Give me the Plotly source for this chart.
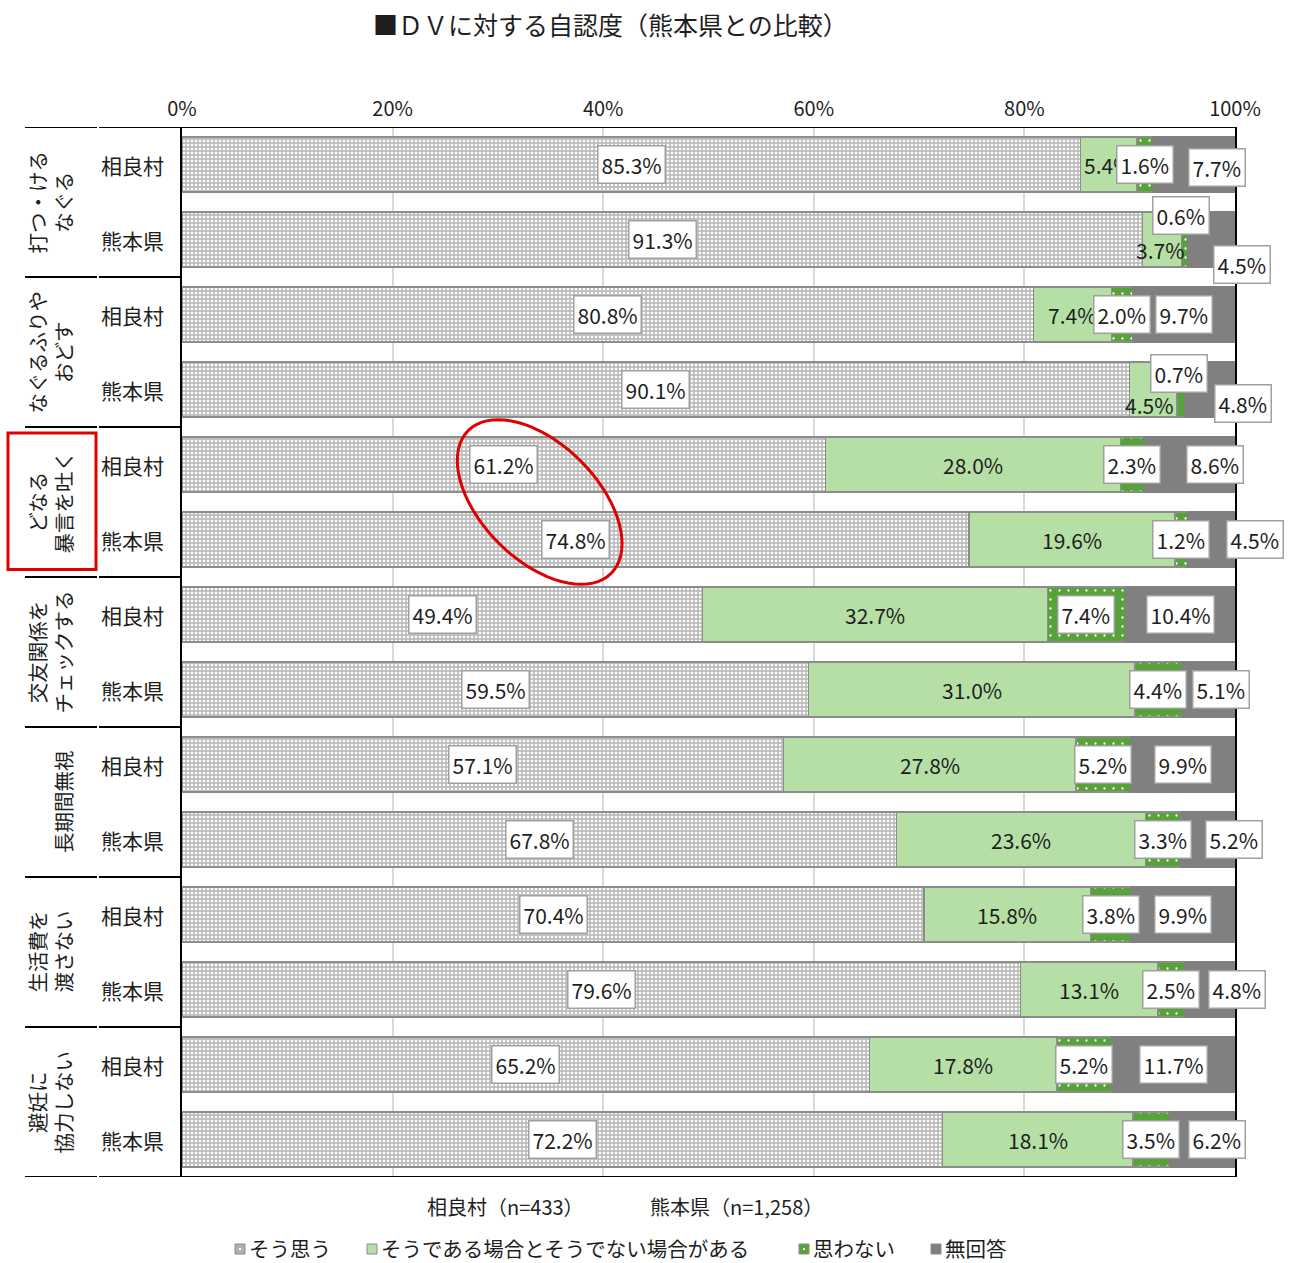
import math
import plotly.graph_objects as go

# ---- data -------------------------------------------------------------
group_labels = [
    "打つ・ける\nなぐる",
    "なぐるふりや\nおどす",
    "どなる\n暴言を吐く",
    "交友関係を\nチェックする",
    "長期間無視",
    "生活費を\n渡さない",
    "避妊に\n協力しない",
]
areas = ["相良村", "熊本県"]
series_names = ["そう思う", "そうである場合とそうでない場合がある", "思わない", "無回答"]

# one value per row: 相良村, 熊本県 for each item in order
agree = [85.3, 91.3, 80.8, 90.1, 61.2, 74.8, 49.4, 59.5, 57.1, 67.8, 70.4, 79.6, 65.2, 72.2]
depends = [5.4, 3.7, 7.4, 4.5, 28.0, 19.6, 32.7, 31.0, 27.8, 23.6, 15.8, 13.1, 17.8, 18.1]
disagree = [1.6, 0.6, 2.0, 0.7, 2.3, 1.2, 7.4, 4.4, 5.2, 3.3, 3.8, 2.5, 5.2, 3.5]
no_answer = [7.7, 4.5, 9.7, 4.8, 8.6, 4.5, 10.4, 5.1, 9.9, 5.2, 9.9, 4.8, 11.7, 6.2]

sample_sizes = ["相良村（n=433）", "熊本県（n=1,258）"]
x_ticks = [0, 20, 40, 60, 80, 100]

# ---- geometry / style -------------------------------------------------
W, H = 1294, 1263
ML, MR, MT, MB = 182, 59, 127, 86
PW, PH = W - ML - MR, H - MT - MB
n_rows = len(agree)

NUM_FONT = "Noto Sans CJK JP, sans-serif"
JP_FONT = "Noto Sans CJK JP, Noto Sans CJK SC, sans-serif"
TXT = "#1e1e1e"

colors = ["#bfbfbf", "#b6dfa6", "#57a33a", "#808080"]
patterns = [
    dict(shape=".", fgcolor="#ffffff", bgcolor="#bcbcbc", size=4, solidity=0.35, fillmode="replace"),
    None,
    dict(shape=".", fgcolor="#ffffff", bgcolor="#57a33a", size=9, solidity=0.05, fillmode="replace"),
    None,
]


def px_x(px):
    return (px - ML) / PW


def px_y(py):
    return (H - MB - py) / PH


rows = list(range(n_rows))
values = [agree, depends, disagree, no_answer]

fig = go.Figure()
for s, name in enumerate(series_names):
    marker = dict(color=colors[s], line=dict(color="#8c8c8c" if s != 3 else "#808080", width=1.3))
    if patterns[s]:
        marker["pattern"] = patterns[s]
    fig.add_trace(go.Bar(
        name=name, orientation="h", x=values[s], y=rows, width=0.73,
        marker=marker, showlegend=False, hoverinfo="skip",
    ))

# ---- data labels ------------------------------------------------------
# manual nudges (px, screen right / down) for labels moved off-centre
nudges = {
    (0, 3): (23, 3),
    (1, 1): (-1, 10), (1, 2): (-4, -24), (1, 3): (31, 25),
    (3, 1): (-4, 15), (3, 2): (-2, -16), (3, 3): (33, 14),
    (4, 3): (25, 0),
    (5, 3): (44, 0),
    (7, 3): (13, 0),
    (9, 3): (26, 0),
    (11, 3): (27, 0),
    (13, 3): (15, 0),
}

annotations = []
label_pos = {}
for i in rows:
    vals = [values[s][i] for s in range(4)]
    total = sum(vals)
    cum = 0.0
    for s in range(4):
        v = vals[s]
        mid = (cum + v / 2) / total * 100
        cum += v
        label_pos[(i, s)] = mid
        dx, dy = nudges.get((i, s), (0, 0))
        boxed = s != 1
        annotations.append(dict(
            x=mid, y=i, xref="x", yref="y", text=f"{v:.1f}%", showarrow=False,
            xshift=dx, yshift=-dy,
            font=dict(family=NUM_FONT, size=21, color=TXT),
            bgcolor="#ffffff" if boxed else None,
            bordercolor="#a0a0a0" if boxed else None,
            borderwidth=1.5 if boxed else 0, borderpad=3,
        ))

# row labels (相良村 / 熊本県)
for i in rows:
    annotations.append(dict(
        x=px_x(132), y=i, xref="paper", yref="y", text=areas[i % 2], showarrow=False,
        font=dict(family=JP_FONT, size=21, color=TXT), xanchor="center", yanchor="middle",
    ))

# rotated item labels
for g, lab in enumerate(group_labels):
    annotations.append(dict(
        x=px_x(79), y=2 * g + 0.5, xref="paper", yref="y", text=lab.replace("\n", "<br>"),
        showarrow=False, textangle=-90, xanchor="right", yanchor="middle", align="center",
        font=dict(family=JP_FONT, size=20.5, color=TXT), borderpad=0,
    ))

# title
annotations.append(dict(
    x=px_x(610), y=px_y(24), xref="paper", yref="paper", text="■ＤＶに対する自認度（熊本県との比較）",
    showarrow=False, xanchor="center", yanchor="middle",
    font=dict(family=JP_FONT, size=25, color=TXT),
))

# sample sizes
for txt, x0 in zip(sample_sizes, [425, 648]):
    annotations.append(dict(
        x=px_x(x0), y=px_y(1206), xref="paper", yref="paper", text=txt, showarrow=False,
        xanchor="left", yanchor="middle", font=dict(family=JP_FONT, size=20, color=TXT),
    ))

# legend (swatch + text)
shapes = []
legend_x = [235, 367, 799, 931]
for s, name in enumerate(series_names):
    sx = legend_x[s]
    cy = 1248
    shapes.append(dict(type="rect", xref="paper", yref="paper",
                       x0=px_x(sx), x1=px_x(sx + 10), y0=px_y(cy + 6), y1=px_y(cy - 4),
                       fillcolor=colors[s] if s != 0 else "#b0b0b0",
                       line=dict(color="#8c8c8c", width=1)))
    if patterns[s]:
        shapes.append(dict(type="rect", xref="paper", yref="paper",
                           x0=px_x(sx + 4), x1=px_x(sx + 6), y0=px_y(cy + 2), y1=px_y(cy),
                           fillcolor="#ffffff", line=dict(width=0)))
    annotations.append(dict(
        x=px_x(sx + 12), y=px_y(cy), xref="paper", yref="paper", text=name, showarrow=False,
        xanchor="left", yanchor="middle", font=dict(family=JP_FONT, size=20.5, color=TXT),
    ))

# table rules on the left (with the small break between the two label columns)
for g in range(len(group_labels) + 1):
    yb = 2 * g - 0.5
    shapes.append(dict(type="line", xref="paper", yref="y", x0=px_x(25), x1=px_x(97), y0=yb, y1=yb,
                       line=dict(color="#000000", width=2)))
    x_end = 1.0 if g in (0, len(group_labels)) else 0.0
    shapes.append(dict(type="line", xref="paper", yref="y", x0=px_x(99), x1=x_end, y0=yb, y1=yb,
                       line=dict(color="#000000", width=2)))

# red frame around the highlighted item
shapes.append(dict(type="rect", xref="paper", yref="y", x0=px_x(8), x1=px_x(96), y0=3.58, y1=5.4,
                   line=dict(color="#e00000", width=3)))

# red ellipse around the two そう思う labels of the highlighted item
xc = (label_pos[(4, 0)] + label_pos[(5, 0)]) / 2
yc = 4.5
sx_px = PW / 100.0
sy_px = PH / n_rows
a_px, b_px, th = 101, 58, math.radians(45)
pts = []
for k in range(73):
    t = 2 * math.pi * k / 72
    dxp = a_px * math.cos(t) * math.cos(th) - b_px * math.sin(t) * math.sin(th)
    dyp = a_px * math.cos(t) * math.sin(th) + b_px * math.sin(t) * math.cos(th)
    pts.append((xc + dxp / sx_px, yc + dyp / sy_px))
path = "M " + " L ".join(f"{x:.4f},{y:.4f}" for x, y in pts) + " Z"
shapes.append(dict(type="path", xref="x", yref="y", path=path, line=dict(color="#e00000", width=3)))

fig.update_layout(
    width=W, height=H,
    margin=dict(l=ML, r=MR, t=MT, b=MB),
    paper_bgcolor="#ffffff", plot_bgcolor="#ffffff",
    barmode="stack", barnorm="percent", bargap=0.27,
    annotations=annotations, shapes=shapes,
    showlegend=False,
    xaxis=dict(
        range=[0, 100], side="top", tickvals=x_ticks, ticktext=[f"{t}%" for t in x_ticks],
        showgrid=True, gridcolor="#d9d9d9", gridwidth=1.5, zeroline=False,
        showline=False, ticks="", ticklabelstandoff=6,
        tickfont=dict(family=NUM_FONT, size=20, color=TXT), fixedrange=True,
    ),
    yaxis=dict(
        range=[n_rows - 0.5, -0.5], showticklabels=False, showgrid=False, zeroline=False,
        showline=True, linecolor="#000000", linewidth=2, mirror=True, ticks="", fixedrange=True,
    ),
)

fig.write_html("out.html")
